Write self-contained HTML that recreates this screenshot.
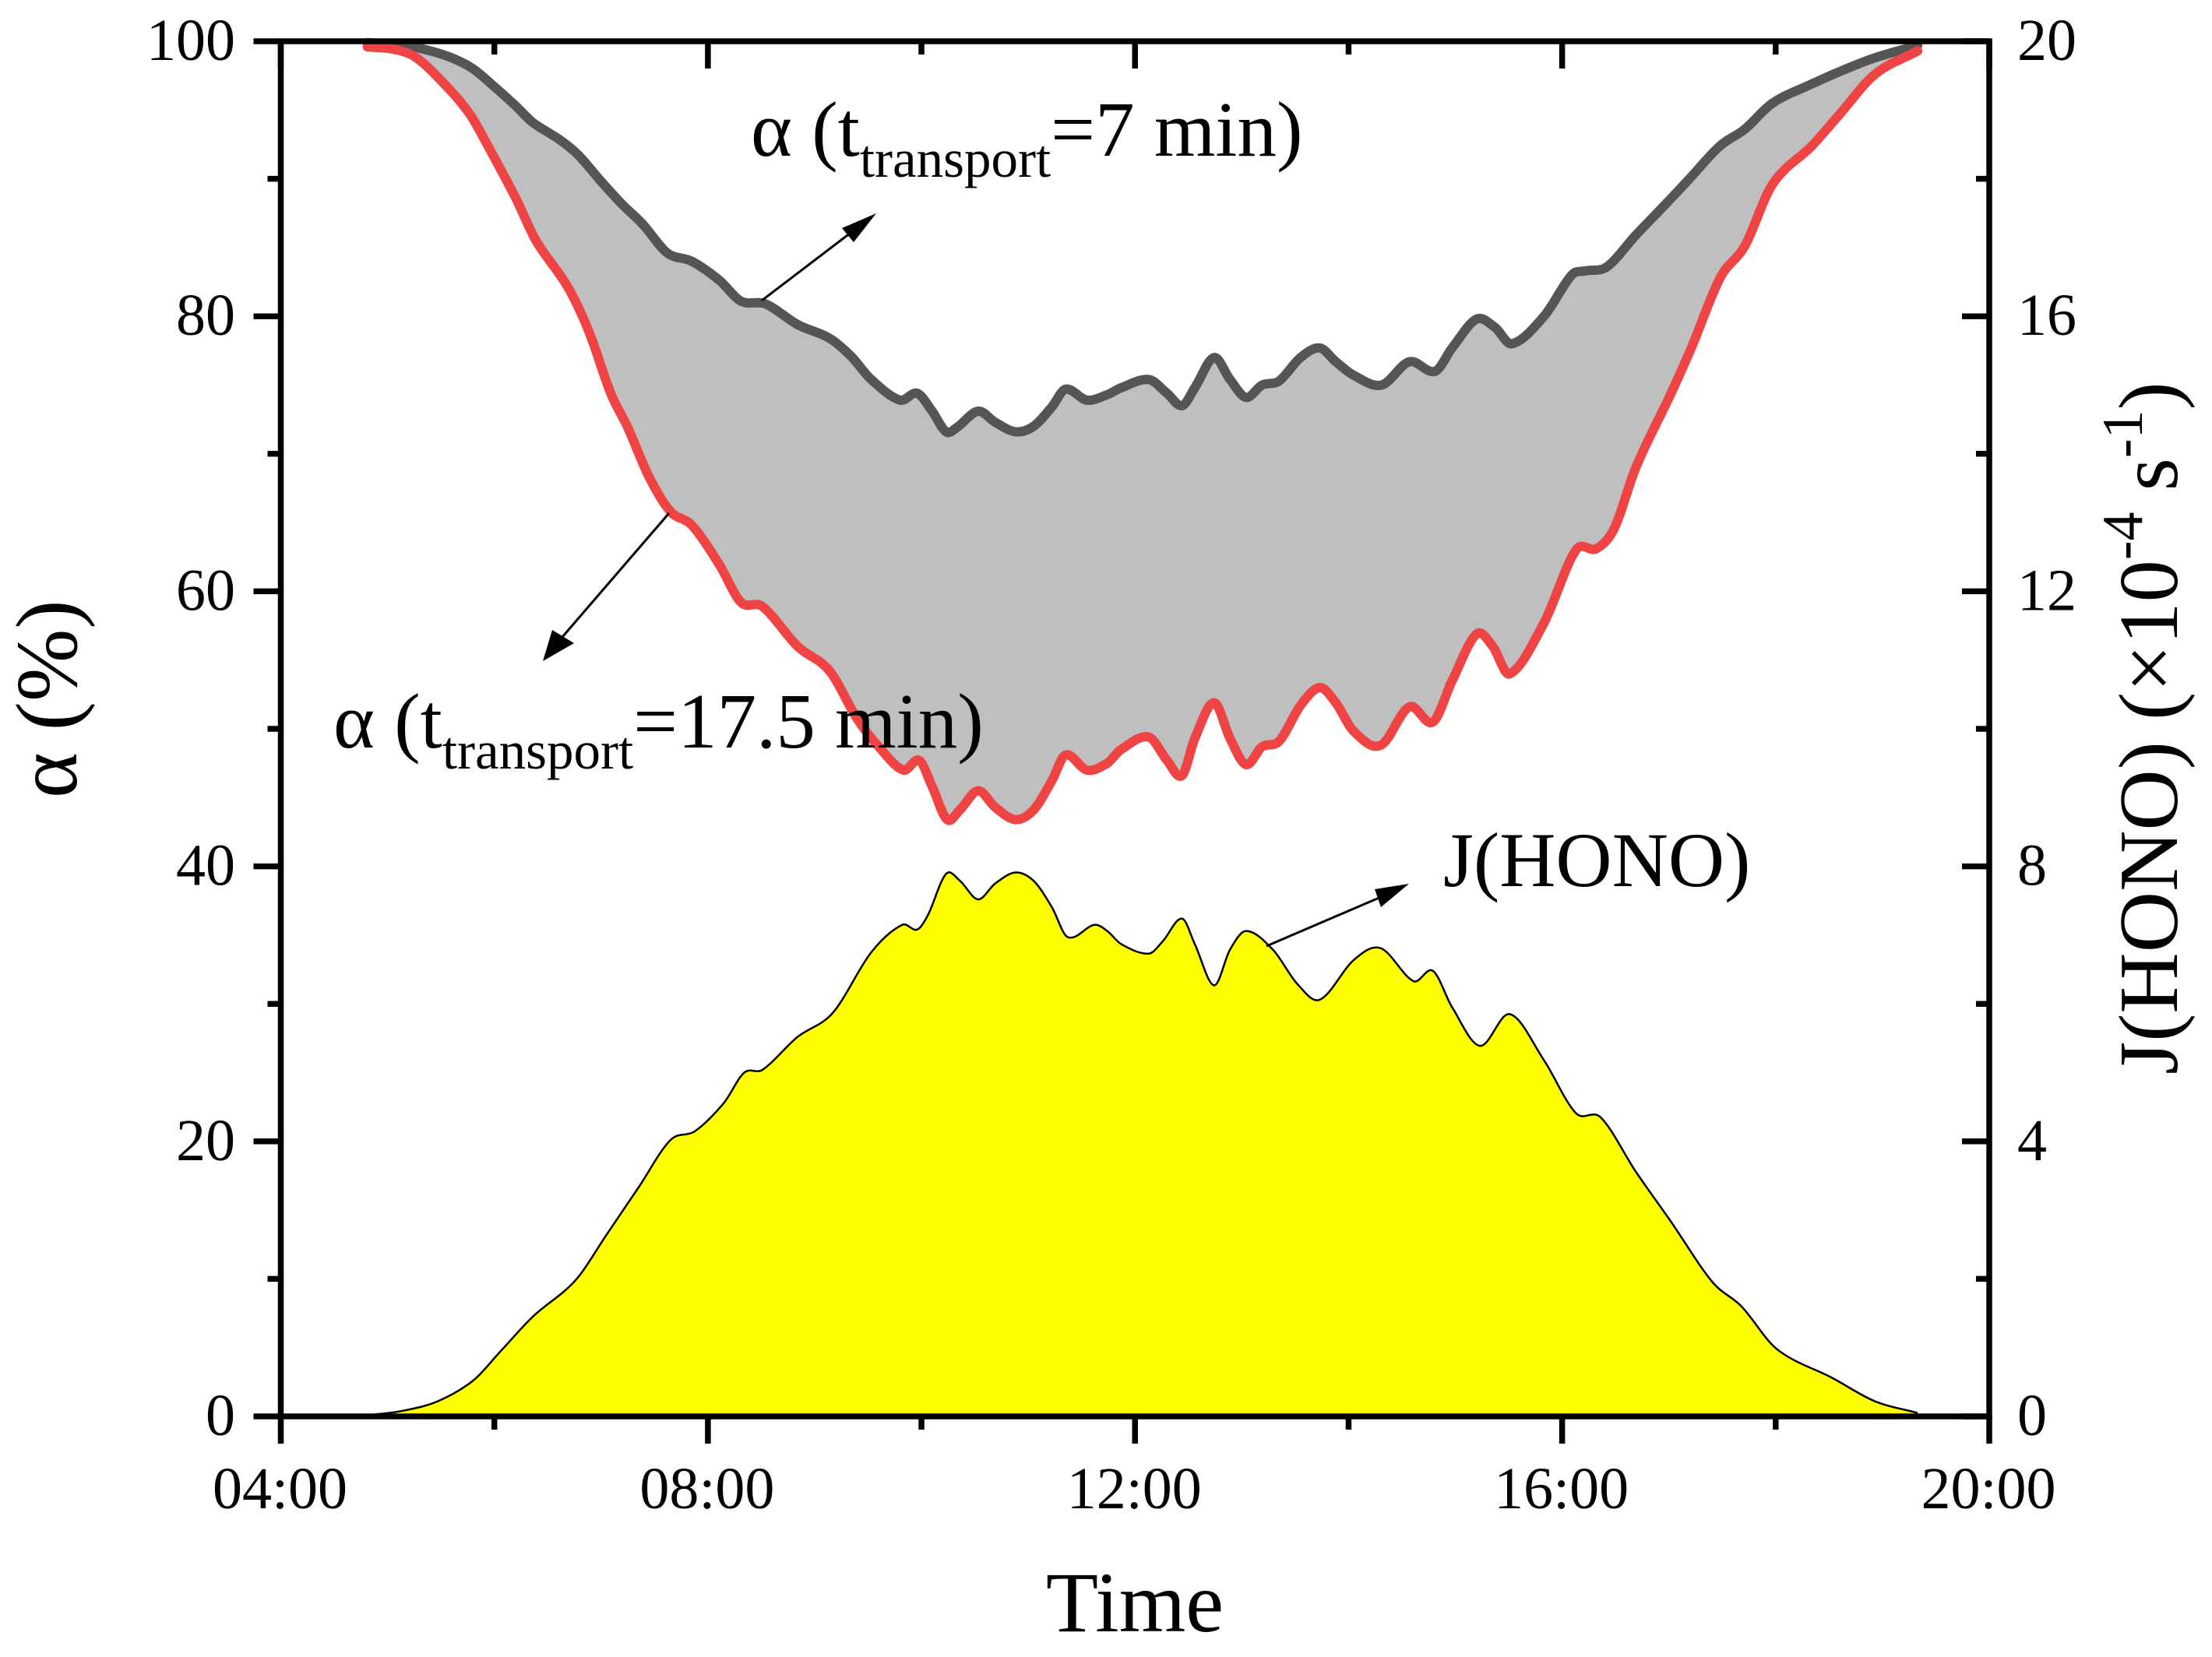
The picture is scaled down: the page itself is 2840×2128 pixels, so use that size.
<!DOCTYPE html>
<html lang="en">
<head>
<meta charset="utf-8">
<title>Alpha and J(HONO) diurnal profile</title>
<style>
html,body{margin:0;padding:0;background:#fff;}
svg{display:block;}
text{font-family:"Liberation Serif",serif;fill:#000;}
</style>
</head>
<body>
<svg id="chart" xmlns="http://www.w3.org/2000/svg" width="2840" height="2128" viewBox="0 0 2840 2128">
  <rect x="0" y="0" width="2840" height="2128" fill="#ffffff"/>
  <g id="marks"></g>
  <g id="axes"></g>

  <text x="1457" y="2095" font-size="110" text-anchor="middle">Time</text>
  <text transform="translate(98,1025) rotate(-90)" font-size="112" xml:space="preserve">α (%)</text>
  <text transform="translate(2795,1380) rotate(-90)" font-size="108.5" xml:space="preserve">J(HONO) (×10<tspan font-size="74" dy="-45">-4</tspan><tspan dy="45"> s</tspan><tspan font-size="74" dy="-45">-1</tspan><tspan dy="45">)</tspan></text>

  <text x="964" y="200" font-size="101" xml:space="preserve">α (t<tspan font-size="69" dy="27">transport</tspan><tspan dy="-27">=7 min)</tspan></text>
  <text x="428" y="960" font-size="101" xml:space="preserve">α (t<tspan font-size="69" dy="27">transport</tspan><tspan dy="-27">=17.5 min)</tspan></text>
  <text x="1853" y="1138" font-size="100">J(HONO)</text>

  <g>
    <line x1="978" y1="386" x2="1100" y2="293" stroke="#000" stroke-width="3"/>
    <polygon points="1125,274 1096,311 1081,293" fill="#000"/>
  </g>
  <g>
    <line x1="859" y1="659" x2="716" y2="825" stroke="#000" stroke-width="3"/>
    <polygon points="697,849 709,809 737,826" fill="#000"/>
  </g>
  <g>
    <line x1="1626" y1="1215" x2="1780" y2="1149" stroke="#000" stroke-width="3"/>
    <polygon points="1809,1135 1773,1165 1765,1142" fill="#000"/>
  </g>
</svg>
<script>
const alpha7Times = [4.81,5.17,5.40,5.60,5.80,6.00,6.20,6.36,6.62,6.79,6.99,7.19,7.39,7.62,7.85,8.11,8.31,8.54,8.84,9.14,9.34,9.53,9.80,9.96,10.10,10.23,10.33,10.53,10.69,10.88,11.05,11.22,11.35,11.55,11.74,11.87,12.13,12.30,12.44,12.56,12.74,12.89,13.04,13.19,13.35,13.55,13.73,13.88,14.05,14.31,14.57,14.81,14.97,15.20,15.37,15.53,15.83,16.09,16.22,16.42,16.69,16.95,17.18,17.48,17.71,17.97,18.34,18.60,18.93,19.33];
const alpha7Values = [99.9,99.7,99.3,98.8,98.0,96.7,95.3,94.1,92.8,91.7,89.9,88.2,86.7,84.6,84.0,82.6,81.1,80.9,79.4,78.4,77.1,75.4,73.9,74.4,73.1,71.6,71.9,73.1,72.3,71.6,72.0,73.4,74.7,73.9,74.3,74.8,75.4,74.4,73.5,74.8,77.0,75.4,74.1,75.0,75.3,77.0,77.7,76.7,75.7,75.0,76.7,76.0,77.7,79.8,79.2,78.0,80.0,83.0,83.3,83.6,85.9,88.0,89.9,92.4,93.6,95.5,96.9,97.8,98.8,99.7];

const alpha175Times = [4.81,5.07,5.27,5.53,5.77,5.96,6.20,6.39,6.69,6.89,7.09,7.25,7.45,7.65,7.85,8.11,8.31,8.51,8.84,9.14,9.40,9.60,9.83,9.98,10.10,10.24,10.36,10.53,10.69,10.88,11.05,11.22,11.35,11.55,11.74,11.87,12.13,12.30,12.44,12.56,12.74,12.89,13.04,13.19,13.35,13.55,13.73,13.88,14.05,14.30,14.57,14.79,14.97,15.20,15.35,15.51,15.83,16.13,16.32,16.49,16.69,17.02,17.21,17.48,17.71,17.97,18.34,18.60,18.93,19.33];
const alpha175Values = [99.6,99.4,98.8,96.9,94.7,92.1,88.6,85.5,82.1,78.8,74.4,71.9,68.3,65.8,64.8,61.9,59.2,58.9,56.0,54.2,50.7,48.7,47.0,47.7,45.8,43.4,44.1,45.5,44.3,43.4,44.1,46.2,48.1,47.0,47.5,48.5,49.4,47.7,46.6,49.3,51.9,49.3,47.4,48.7,49.1,51.7,53.0,51.9,49.8,48.8,51.6,50.5,53.5,56.9,56.0,54.0,57.7,63.0,63.1,64.6,69.0,74.4,77.7,82.8,85.1,89.6,92.4,94.7,97.6,99.3];

const jhonoTimes = [4.84,5.14,5.47,5.80,6.06,6.36,6.76,7.05,7.35,7.65,7.88,8.15,8.34,8.51,8.84,9.17,9.53,9.82,9.96,10.06,10.23,10.36,10.53,10.69,10.88,11.05,11.22,11.37,11.62,11.74,11.87,12.13,12.26,12.44,12.56,12.74,12.89,13.04,13.29,13.52,13.73,14.05,14.30,14.61,14.79,14.97,15.23,15.51,15.83,16.13,16.36,16.69,17.02,17.41,17.68,18.01,18.53,18.93,19.33];
const jhonoValues = [0.02,0.08,0.22,0.52,0.95,1.45,1.98,2.64,3.33,4.02,4.15,4.56,5.00,5.04,5.52,5.87,6.75,7.15,7.08,7.29,7.89,7.79,7.52,7.75,7.91,7.79,7.41,6.97,7.15,7.06,6.87,6.73,6.91,7.24,6.87,6.27,6.79,7.06,6.79,6.29,6.06,6.64,6.81,6.33,6.48,5.95,5.39,5.85,5.18,4.41,4.35,3.56,2.83,1.95,1.60,0.98,0.56,0.22,0.05];

const xMajorTicks = [4,8,12,16,20];
const xMinorTicks = [6,10,14,18];
const xTickLabels = ["04:00","08:00","12:00","16:00","20:00"];
const leftMajorTicks = [0,20,40,60,80,100];
const leftMinorTicks = [10,30,50,70,90];
const rightMajorTicks = [0,4,8,12,16,20];
const rightMinorTicks = [2,6,10,14,18];

const plotLeft = 360.5, plotRight = 2554, plotTop = 53, plotBottom = 1819;
const timeMin = 4, timeMax = 20, leftMax = 100, rightMax = 20;

function xAxis(t){ return plotLeft + (t - timeMin) / (timeMax - timeMin) * (plotRight - plotLeft); }
function yLeft(v){ return plotBottom - v / leftMax * (plotBottom - plotTop); }
function yRight(v){ return plotBottom - v / rightMax * (plotBottom - plotTop); }

const NS = "http://www.w3.org/2000/svg";
function make(tag, attrs, parent, text){
  const el = document.createElementNS(NS, tag);
  for (const k in attrs) el.setAttribute(k, attrs[k]);
  if (text !== undefined) el.textContent = text;
  parent.appendChild(el);
  return el;
}
function toPoints(times, values, yFn){
  return times.map(function(t, i){ return [xAxis(t), yFn(values[i])]; });
}
function slope(p, i){
  const a = p[Math.max(i - 1, 0)], b = p[Math.min(i + 1, p.length - 1)];
  return (b[1] - a[1]) / (b[0] - a[0]);
}
function curve(p){
  let d = "";
  for (let i = 0; i < p.length - 1; i++){
    const p1 = p[i], p2 = p[i + 1];
    const dx = p2[0] - p1[0];
    const c1x = p1[0] + dx / 3, c1y = p1[1] + slope(p, i) * dx / 3;
    const c2x = p2[0] - dx / 3, c2y = p2[1] - slope(p, i + 1) * dx / 3;
    d += "C" + c1x.toFixed(1) + " " + c1y.toFixed(1) + " " + c2x.toFixed(1) + " " + c2y.toFixed(1) + " " + p2[0].toFixed(1) + " " + p2[1].toFixed(1);
  }
  return d;
}
function start(p){ return p[0][0].toFixed(1) + " " + p[0][1].toFixed(1); }

const marks = document.getElementById("marks");
const axes = document.getElementById("axes");

const greyPts = toPoints(alpha7Times, alpha7Values, yLeft);
const redPts = toPoints(alpha175Times, alpha175Values, yLeft);
const jPts = toPoints(jhonoTimes, jhonoValues, yRight);
const redRev = redPts.slice().reverse();

const band = make("path", {d: "M" + start(greyPts) + curve(greyPts) + "L" + start(redRev) + curve(redRev) + "Z", fill: "#bfbfbf", stroke: "none"}, marks);



const jArea = make("path", {d: "M" + jPts[0][0].toFixed(1) + " " + plotBottom + "L" + start(jPts) + curve(jPts) + "L" + jPts[jPts.length - 1][0].toFixed(1) + " " + plotBottom + "Z", fill: "#ffff00", stroke: "none"}, marks);



const jLine = make("path", {d: "M" + start(jPts) + curve(jPts), fill: "none", stroke: "#000000", "stroke-width": 2.5}, marks);



const greyLine = make("path", {d: "M" + start(greyPts) + curve(greyPts), fill: "none", stroke: "#555555", "stroke-width": 12, "stroke-linejoin": "round", "stroke-linecap": "round"}, marks);



const redLine = make("path", {d: "M" + start(redPts) + curve(redPts), fill: "none", stroke: "#f04444", "stroke-width": 12, "stroke-linejoin": "round", "stroke-linecap": "round"}, marks);



const frame = make("rect", {x: plotLeft, y: plotTop, width: plotRight - plotLeft, height: plotBottom - plotTop, fill: "none", stroke: "#000", "stroke-width": 7.5}, axes);



const majorLen = 35, minorLen = 17, tickW = 7.5;
const labelSize = 76, labelDrop = 24;

xMajorTicks.forEach(function(t, i){
  const x = xAxis(t);
  const bottomTick = make("line", {x1: x, x2: x, y1: plotBottom, y2: plotBottom + majorLen, stroke: "#000", "stroke-width": tickW}, axes);
  
  
  const topTick = make("line", {x1: x, x2: x, y1: plotTop, y2: plotTop + majorLen, stroke: "#000", "stroke-width": tickW}, axes);
  
  
  const label = make("text", {x: x - 1, y: 1937, "font-size": labelSize, "text-anchor": "middle"}, axes, xTickLabels[i]);
  
  
});
xMinorTicks.forEach(function(t){
  const x = xAxis(t);
  const bottomMinor = make("line", {x1: x, x2: x, y1: plotBottom, y2: plotBottom + minorLen, stroke: "#000", "stroke-width": tickW}, axes);
  
  
  const topMinor = make("line", {x1: x, x2: x, y1: plotTop, y2: plotTop + minorLen, stroke: "#000", "stroke-width": tickW}, axes);
  
  
});
leftMajorTicks.forEach(function(v){
  const y = yLeft(v);
  const tick = make("line", {x1: plotLeft - majorLen, x2: plotLeft, y1: y, y2: y, stroke: "#000", "stroke-width": tickW}, axes);
  
  
  const label = make("text", {x: 302, y: y + labelDrop, "font-size": labelSize, "text-anchor": "end"}, axes, String(v));
  
  
});
leftMinorTicks.forEach(function(v){
  const y = yLeft(v);
  const tick = make("line", {x1: plotLeft - minorLen, x2: plotLeft, y1: y, y2: y, stroke: "#000", "stroke-width": tickW}, axes);
  
  
});
rightMajorTicks.forEach(function(v){
  const y = yRight(v);
  const tick = make("line", {x1: plotRight - majorLen, x2: plotRight, y1: y, y2: y, stroke: "#000", "stroke-width": tickW}, axes);
  
  
  const label = make("text", {x: 2590, y: y + labelDrop, "font-size": labelSize}, axes, String(v));
  
  
});
rightMinorTicks.forEach(function(v){
  const y = yRight(v);
  const tick = make("line", {x1: plotRight - minorLen, x2: plotRight, y1: y, y2: y, stroke: "#000", "stroke-width": tickW}, axes);
  
  
});
</script>
</body>
</html>
